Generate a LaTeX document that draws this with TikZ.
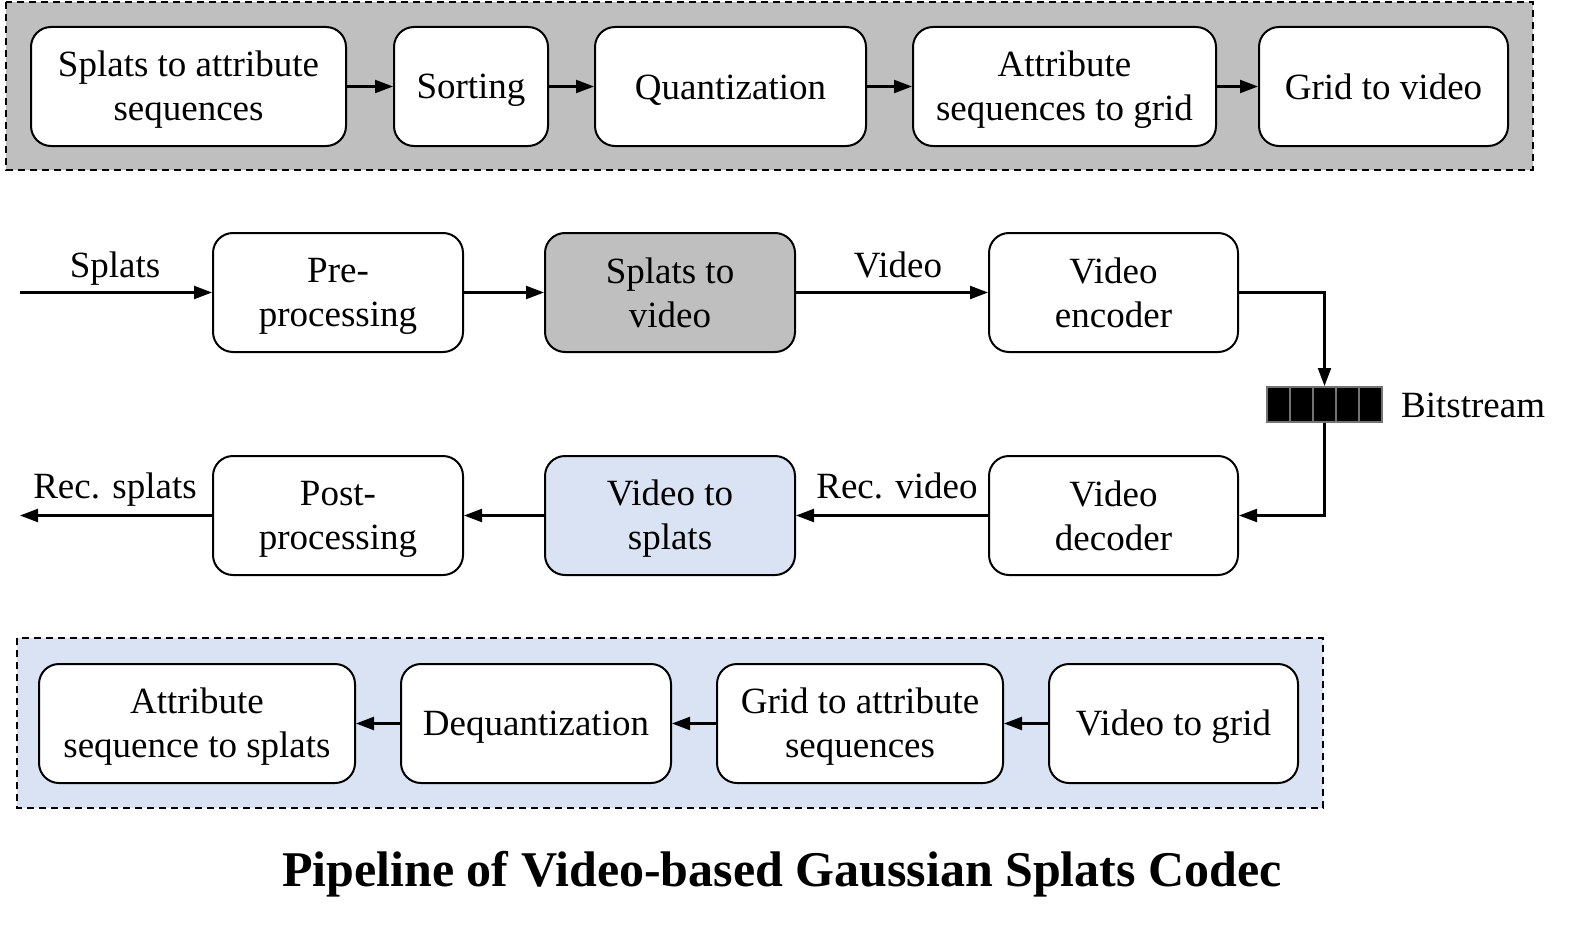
\documentclass[tikz,border=0pt]{standalone}
\usepackage{fontspec}
\setmainfont{Liberation Serif}
\usetikzlibrary{arrows.meta}
\definecolor{grayfill}{RGB}{191,191,191}
\definecolor{bluefill}{RGB}{218,227,243}
\newcommand\lstr{\rule[-6pt]{0pt}{38pt}}
\begin{document}
\begin{tikzpicture}[x=1pt,y=-1pt,
  proc/.style={draw,line width=2pt,rounded corners=20pt,fill=white,align=center,
    font=\fontsize{37}{44}\selectfont,inner sep=0pt,minimum height=119pt},
  lbl/.style={font=\fontsize{37}{44}\selectfont,inner sep=0pt,anchor=base},
  arr/.style={line width=2.2pt,-{Triangle[length=18pt,width=13pt]}},
  frame/.style={line width=1.5pt,dash pattern=on 7pt off 5pt},
  bit/.style={draw=black!55,fill=black,line width=2pt,minimum width=22.8pt,minimum height=35pt,inner sep=0pt}]
\useasboundingbox (0,0) rectangle (1573,931);
% frames
\draw[frame,fill=grayfill] (6,2) rectangle (1533,170);
\draw[frame,fill=bluefill] (17,638) rectangle (1323,808);
% top detail row
\node[proc,minimum width=315pt] (t1) at (188.5,86.5) {\lstr Splats to attribute\\\lstr sequences};
\node[proc,minimum width=154pt] (t2) at (471,86.5) {\lstr Sorting};
\node[proc,minimum width=271pt] (t3) at (730.5,86.5) {\lstr Quantization};
\node[proc,minimum width=303pt] (t4) at (1064.5,86.5) {\lstr Attribute\\\lstr sequences to grid};
\node[proc,minimum width=249pt] (t5) at (1383.5,86.5) {\lstr Grid to video};
\draw[arr] (t1) -- (t2);
\draw[arr] (t2) -- (t3);
\draw[arr] (t3) -- (t4);
\draw[arr] (t4) -- (t5);
% main encoder row
\node[proc,minimum width=250pt] (pre) at (338,292.5) {\lstr Pre-\\\lstr processing};
\node[proc,minimum width=250pt,fill=grayfill] (stv) at (670,292.5) {\lstr Splats to\\\lstr video};
\node[proc,minimum width=249pt] (enc) at (1113.5,292.5) {\lstr Video\\\lstr encoder};
\coordinate (in) at (20,292.5);
\draw[arr] (in) -- (pre);
\draw[arr] (pre) -- (stv);
\draw[arr] (stv) -- (enc);
\node[lbl] (lsplats) at (115,277) {Splats};
\node[lbl] (lvideo) at (898,277) {Video};
% bitstream
\node[bit] (b1) at (1278.5,404.5) {};
\node[bit] (b2) at (1301.5,404.5) {};
\node[bit] (b3) at (1324.5,404.5) {};
\node[bit] (b4) at (1347.5,404.5) {};
\node[bit] (b5) at (1370.5,404.5) {};
\node[lbl,anchor=base west] (lbit) at (1401,417) {Bitstream};
% decoder row
\node[proc,minimum width=250pt] (post) at (338,515.5) {\lstr Post-\\\lstr processing};
\node[proc,minimum width=250pt,fill=bluefill] (vts) at (670,515.5) {\lstr Video to\\\lstr splats};
\node[proc,minimum width=249pt] (dec) at (1113.5,515.5) {\lstr Video\\\lstr decoder};
\draw[arr] (enc.east) -| (b3.north);
\draw[arr] (b3.south) |- (dec.east);
\draw[arr] (dec) -- (vts);
\draw[arr] (vts) -- (post);
\coordinate (out) at (20,515.5);
\draw[arr] (post) -- (out);
\node[lbl] (lrecs) at (115,498) {Rec. splats};
\node[lbl] (lrecv) at (897,498) {Rec. video};
% bottom detail row
\node[proc,minimum width=316pt] (d1) at (197,723.5) {\lstr Attribute\\\lstr sequence to splats};
\node[proc,minimum width=270pt] (d2) at (536,723.5) {\lstr Dequantization};
\node[proc,minimum width=286pt] (d3) at (860,723.5) {\lstr Grid to attribute\\\lstr sequences};
\node[proc,minimum width=249pt] (d4) at (1173.5,723.5) {\lstr Video to grid};
\draw[arr] (d4) -- (d3);
\draw[arr] (d3) -- (d2);
\draw[arr] (d2) -- (d1);
% title
\node[inner sep=0pt,anchor=base,font=\fontsize{50}{56}\selectfont\bfseries] (title) at (782,886) {Pipeline of Video-based Gaussian Splats Codec};
\end{tikzpicture}
\end{document}
